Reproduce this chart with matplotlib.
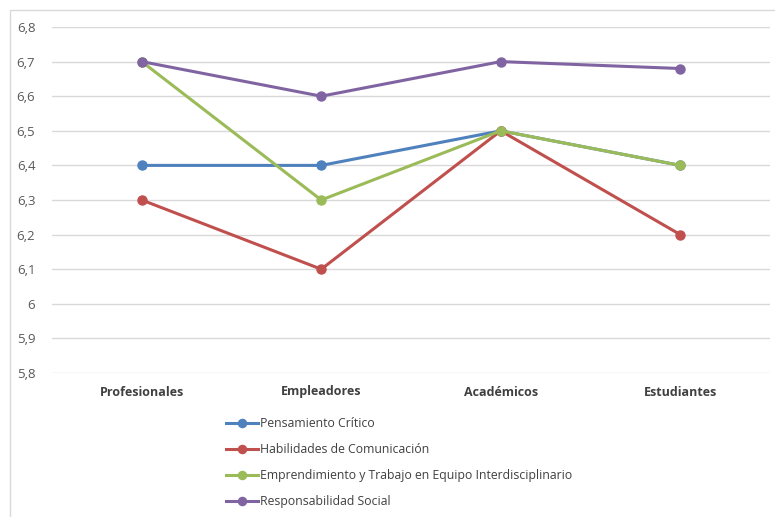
import matplotlib.pyplot as plt
from matplotlib.patches import Rectangle
from matplotlib.ticker import FuncFormatter

categories = ["Profesionales", "Empleadores", "Académicos", "Estudiantes"]
series_names = [
    "Pensamiento Crítico",
    "Habilidades de Comunicación",
    "Emprendimiento y Trabajo en Equipo Interdisciplinario",
    "Responsabilidad Social",
]
pensamiento = [6.4, 6.4, 6.5, 6.4]
comunicacion = [6.3, 6.1, 6.5, 6.2]
emprendimiento = [6.7, 6.3, 6.5, 6.4]
responsabilidad = [6.7, 6.6, 6.7, 6.68]
colors = ["#4F81BD", "#C0504D", "#9BBB59", "#8064A2"]

plt.rcParams["font.family"] = ["Open Sans", "DejaVu Sans"]

fig = plt.figure(figsize=(7.75, 5.17), dpi=100)
ax = fig.add_axes([52 / 775, 1 - 373 / 517, 718 / 775, 346 / 517])

# chart border like the spreadsheet frame
fig.patches.append(Rectangle((10 / 775, -0.01), 1.0, 1 - 10 / 517 + 0.01,
                             transform=fig.transFigure, fill=False,
                             edgecolor="#D9D9D9", linewidth=1.0))

x = list(range(len(categories)))
for vals, name, c in zip([pensamiento, comunicacion, emprendimiento, responsabilidad],
                         series_names, colors):
    ax.plot(x, vals, color=c, linewidth=2.2, marker="o", markersize=6.5, label=name)

ax.set_xlim(-0.5, 3.5)
ax.set_ylim(5.8, 6.8)
ax.set_yticks([5.8 + 0.1 * i for i in range(11)])
ax.yaxis.set_major_formatter(FuncFormatter(
    lambda v, p: (f"{v:.1f}".rstrip("0").rstrip(".")).replace(".", ",")))
ax.set_xticks(x)
ax.set_xticklabels(categories, fontweight="bold", fontsize=9, color="#404040")
ax.tick_params(axis="y", length=0, labelsize=9.5, labelcolor="#595959", pad=12)
ax.tick_params(axis="x", length=0, pad=9)
ax.grid(axis="y", color="#D9D9D9", linewidth=1.0)
ax.set_axisbelow(True)
for s in ax.spines.values():
    s.set_visible(False)

fig.legend(loc="upper left", bbox_to_anchor=(221 / 775, 1 - 412 / 517),
           frameon=False, fontsize=8.8, handlelength=2.65, handletextpad=0.1,
           labelspacing=1.08, borderaxespad=0, labelcolor="#404040",
           markerscale=0.9)

fig.savefig("out.png", dpi=100)
